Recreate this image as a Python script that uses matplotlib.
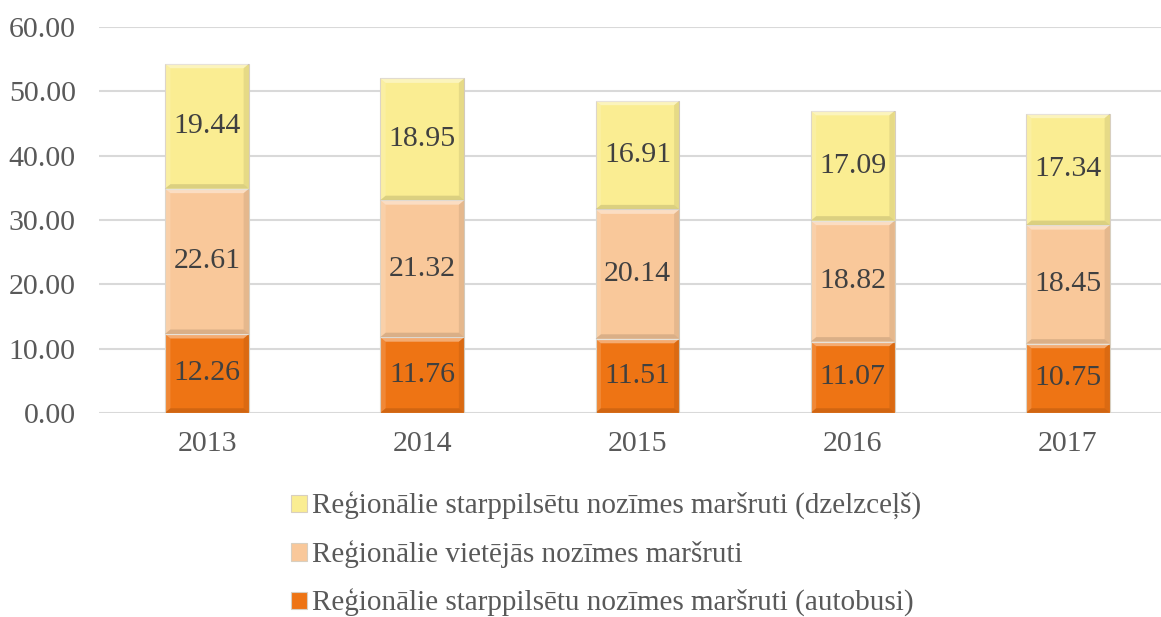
import numpy as np
import matplotlib.pyplot as plt
from matplotlib.patches import Polygon

years = ["2013", "2014", "2015", "2016", "2017"]
autobusi = [12.26, 11.76, 11.51, 11.07, 10.75]
vietejas = [22.61, 21.32, 20.14, 18.82, 18.45]
dzelzcels = [19.44, 18.95, 16.91, 17.09, 17.34]

series = [
    ("Reģionālie starppilsētu nozīmes maršruti (autobusi)", autobusi, "#EE7414"),
    ("Reģionālie vietējās nozīmes maršruti", vietejas, "#F9C89A"),
    ("Reģionālie starppilsētu nozīmes maršruti (dzelzceļš)", dzelzcels, "#FAED92"),
]

plt.rcParams['font.family'] = ['Liberation Serif', 'DejaVu Serif']

fig = plt.figure(figsize=(11.61, 6.17), dpi=100)
ax = fig.add_axes([0.0856, 0.331, 0.927, 0.625])

x = np.arange(len(years))
w = 0.39
bottom = np.zeros(len(years))
handles = []
for name, vals, col in series:
    bars = ax.bar(x, vals, w, bottom=bottom, color=col, edgecolor="#d8cfc0",
                  linewidth=0.8, label=name, zorder=3)
    handles.append(bars)
    # simple bevel: light top/left edge, darker bottom/right edge
    for xi, b, v in zip(x, bottom, vals):
        x0, x1 = xi - w / 2, xi + w / 2
        y0, y1 = b, b + v
        dx, dy = 0.025, 0.7
        ax.add_patch(Polygon([(x0, y1), (x1, y1), (x1 - dx, y1 - dy), (x0 + dx, y1 - dy)],
                             closed=True, facecolor="white", alpha=0.4, lw=0, zorder=4))
        ax.add_patch(Polygon([(x0, y0), (x0, y1), (x0 + dx, y1 - dy), (x0 + dx, y0 + dy)],
                             closed=True, facecolor="white", alpha=0.15, lw=0, zorder=4))
        ax.add_patch(Polygon([(x0, y0), (x1, y0), (x1 - dx, y0 + dy), (x0 + dx, y0 + dy)],
                             closed=True, facecolor="black", alpha=0.12, lw=0, zorder=4))
        ax.add_patch(Polygon([(x1, y0), (x1, y1), (x1 - dx, y1 - dy), (x1 - dx, y0 + dy)],
                             closed=True, facecolor="black", alpha=0.08, lw=0, zorder=4))
        ax.text(xi, b + v / 2, f"{v:.2f}", ha="center", va="center",
                fontsize=21.5, color="#404040", zorder=5)
    bottom = bottom + np.array(vals)

ax.set_xlim(-0.5, len(years) - 0.5)
ax.set_ylim(0, 60)
ax.set_yticks(np.arange(0, 61, 10))
ax.set_yticklabels([f"{t:.2f}" for t in np.arange(0, 61, 10)])
ax.set_xticks(x)
ax.set_xticklabels(years)
ax.tick_params(axis="both", length=0, labelsize=21.5, labelcolor="#595959")
ax.tick_params(axis="y", pad=17)
ax.tick_params(axis="x", pad=13)
ax.yaxis.grid(True, color="#d9d9d9", linewidth=1.5, zorder=0)
for s in ax.spines.values():
    s.set_visible(False)

leg = fig.legend(handles[::-1], [s[0] for s in series][::-1], loc="upper center",
                 bbox_to_anchor=(0.522, 0.245), frameon=False, fontsize=21,
                 labelcolor="#595959", handlelength=0.55, handleheight=0.55,
                 handletextpad=0.15, labelspacing=0.7)

fig.savefig("out.png", dpi=100)
